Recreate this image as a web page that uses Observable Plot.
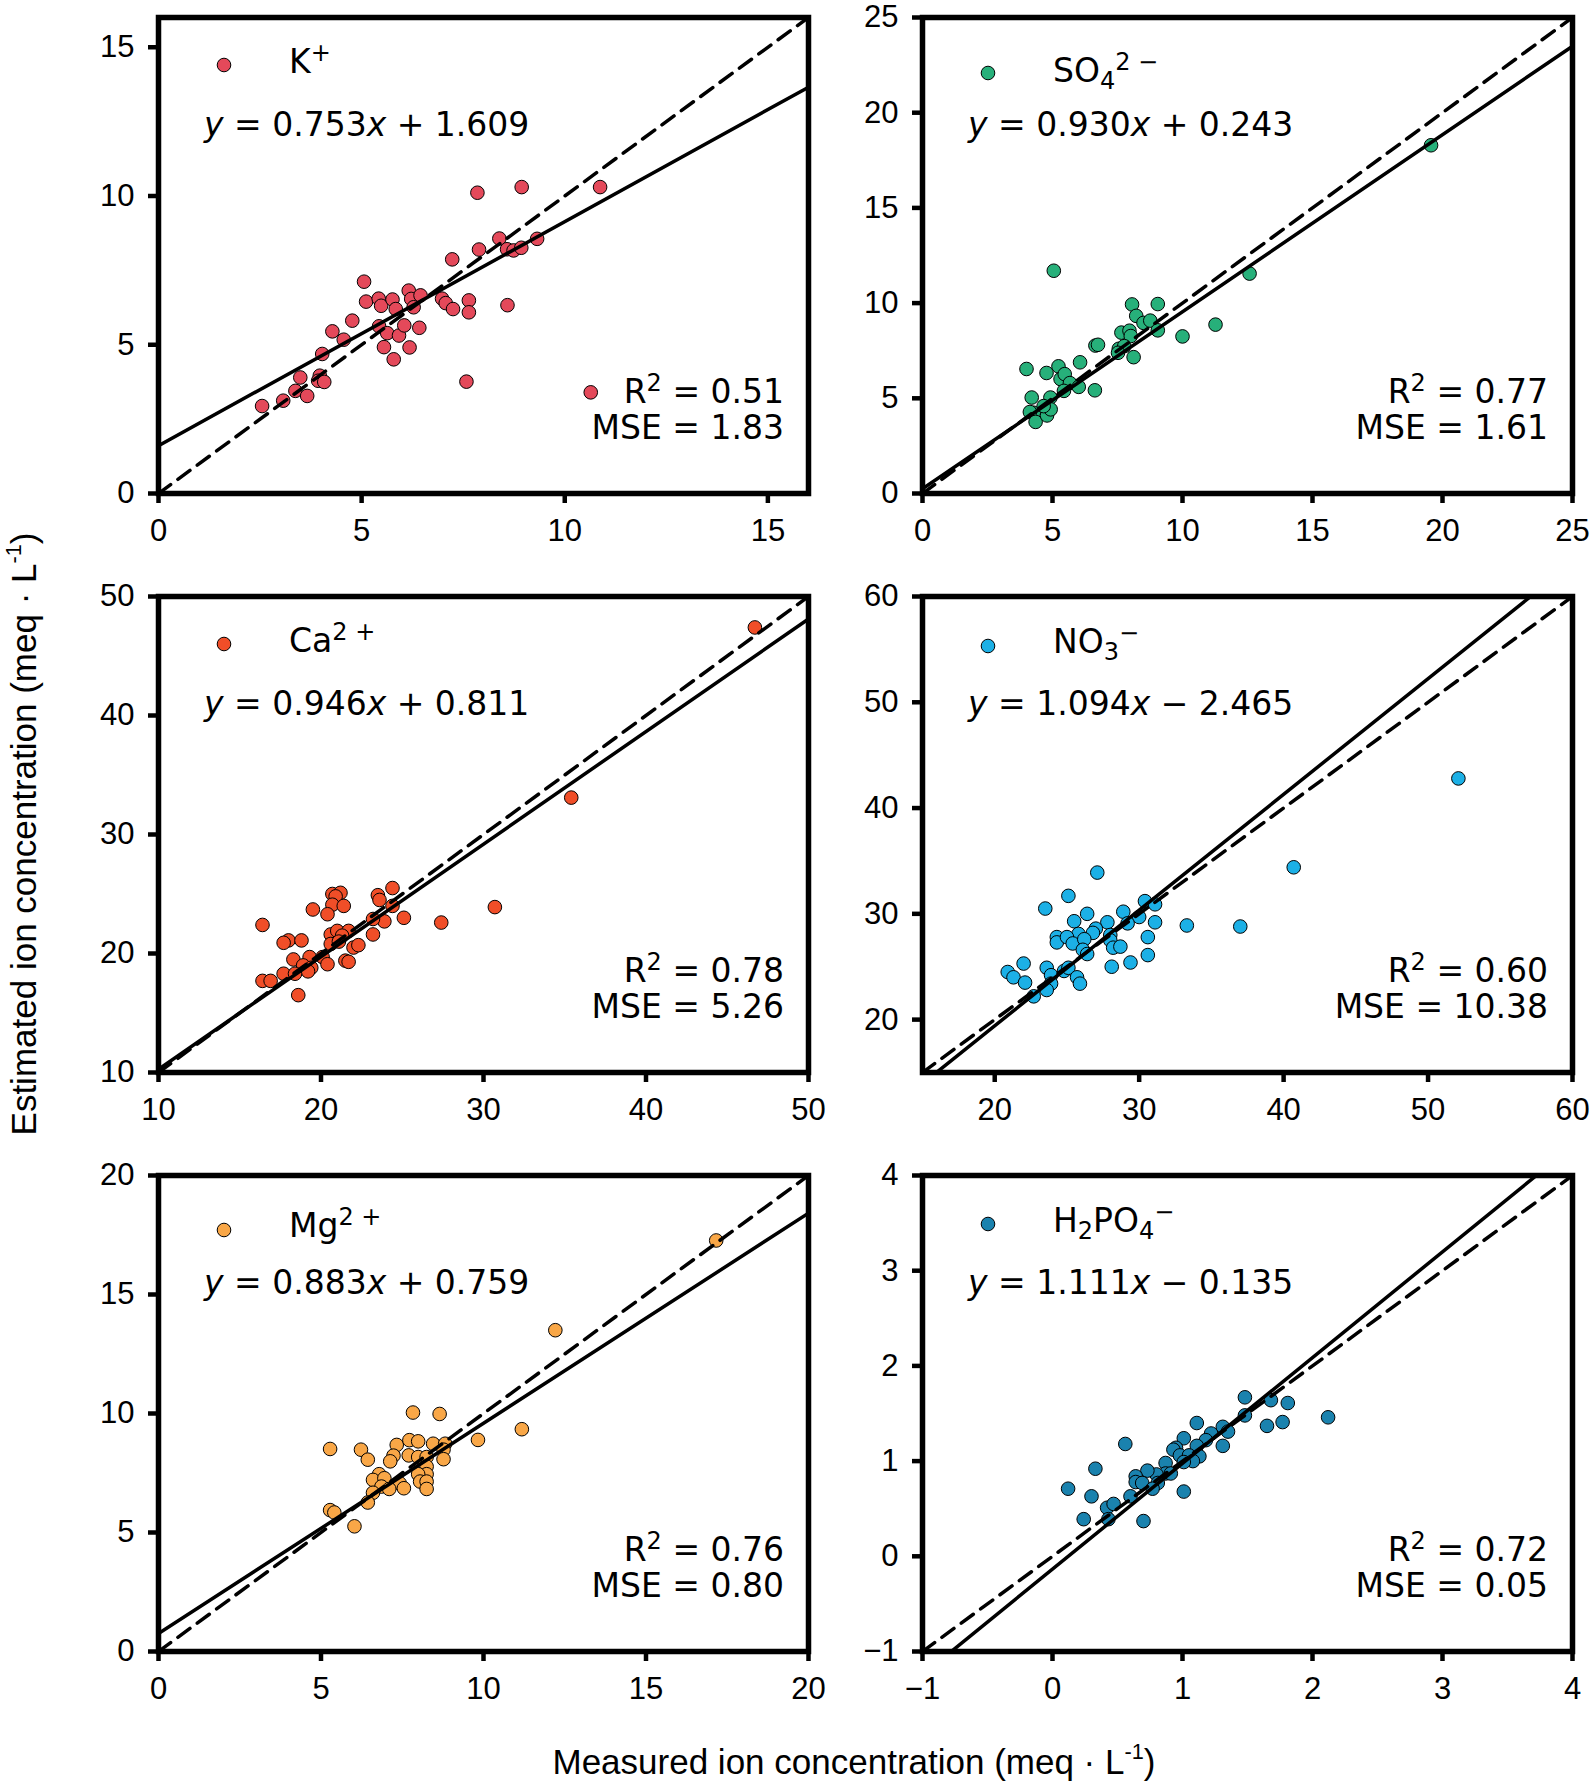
<!DOCTYPE html>
<html>
<head>
<meta charset="utf-8">
<script src="https://cdn.jsdelivr.net/npm/d3@7"></script>
<script src="https://cdn.jsdelivr.net/npm/@observablehq/plot@0.6"></script>
<style>
  html, body { margin: 0; padding: 0; background: #fff; overflow: hidden; }
  #fig { position: relative; width: 1595px; height: 1785px; background: #fff; }
  .panel { position: absolute; }
  .axtitle { position: absolute; font-family: "Liberation Sans", Arial, sans-serif; font-size: 35px; line-height: 40px; color: #000; white-space: nowrap; }
  .axtitle sup { font-size: 0.62em; vertical-align: 0.7em; line-height: 0; }
</style>
</head>
<body>
<div id="fig"></div>
<script>
// ---------------- DATA ----------------
const kMeasured   = [2.55,3.07,3.37,3.66,3.49,3.97,3.93,4.08,4.03,4.28,4.56,4.77,5.06,5.11,5.42,5.48,5.76,5.84,6.16,6.22,6.28,6.45,5.43,5.63,5.92,6.05,6.42,5.55,6.18,5.79,6.98,7.07,7.25,7.64,7.64,7.23,7.58,7.85,7.89,8.39,8.58,8.74,8.93,9.32,8.59,8.94,10.87,10.64];
const kEstimated  = [2.94,3.12,3.45,3.28,3.90,3.96,3.79,3.75,4.69,5.45,5.17,5.81,7.12,6.45,6.55,6.31,6.52,6.20,6.82,6.54,6.26,6.66,5.62,5.39,5.31,5.65,5.57,4.92,4.91,4.51,6.55,6.40,6.20,6.49,6.09,7.87,3.76,10.11,8.20,8.57,8.21,8.17,8.26,8.56,6.33,10.30,10.30,3.40];

const so4Measured  = [19.56,12.58,5.05,11.27,10.0,8.06,9.05,8.22,8.50,8.76,9.05,7.65,7.96,8.01,7.55,7.76,7.52,8.12,6.65,6.75,6.06,5.23,4.0,4.77,5.31,5.47,5.67,5.44,6.01,6.63,4.2,4.92,4.28,4.13,4.35,4.79,4.93,4.66];
const so4Estimated = [18.29,11.55,11.70,8.87,8.25,9.93,9.95,9.33,8.96,9.08,8.57,8.45,8.55,8.27,7.60,7.74,7.39,7.16,7.77,7.81,6.89,6.68,6.54,6.33,6.01,6.27,5.80,5.39,5.60,5.42,5.04,5.04,4.24,4.28,3.76,4.10,4.42,4.59];

const caMeasured  = [46.7,35.4,30.7,27.4,16.4,24.4,23.5,23.6,24.4,25.1,23.9,23.2,23.2,20.7,21.2,20.9,20.7,21.4,19.5,20.4,18.0,17.7,18.8,20.6,21.0,21.7,21.3,20.6,21.1,22.0,22.3,18.3,19.3,20.1,20.4,18.9,19.4,19.2,21.5,21.7,17.7,18.4,16.4,16.9,18.6];
const caEstimated = [47.4,33.1,23.9,22.6,22.4,25.5,24.9,24.5,24.0,23.0,22.7,22.9,21.6,25.0,25.1,24.8,24.1,24.0,23.7,23.3,21.1,20.9,21.1,21.6,21.9,21.9,21.5,20.8,21.0,20.5,20.7,19.5,19.7,19.7,19.1,19.0,18.8,18.5,19.4,19.3,18.3,18.3,17.7,17.7,16.5];

const no3Measured  = [52.1,40.7,37.0,33.3,27.1,25.1,23.5,30.4,31.1,28.9,30.0,29.2,31.1,27.8,26.4,25.5,27.0,26.8,25.8,24.3,24.3,25.0,25.4,26.2,28.0,28.0,28.2,28.7,26.1,26.4,30.6,30.6,29.4,28.1,22.0,20.9,21.3,22.1,23.6,23.9,23.9,23.6,22.7,24.8,25.1,25.7,25.9];
const no3Estimated = [42.8,34.4,28.8,28.9,33.9,31.7,30.5,31.2,30.9,30.2,29.7,29.1,29.2,29.2,30.0,29.3,28.6,28.2,28.1,27.8,27.3,27.8,27.2,27.6,28.0,27.5,26.8,26.9,26.6,26.2,27.8,26.1,25.4,25.0,25.3,24.5,24.0,23.5,24.9,24.2,23.4,22.8,22.2,24.6,24.9,24.0,23.4];

const mgMeasured  = [17.16,12.21,11.18,9.83,7.83,8.65,5.28,6.23,6.44,7.33,7.72,7.99,8.45,8.82,8.77,8.77,7.70,7.99,8.25,7.23,7.13,8.25,8.25,7.99,6.79,6.60,6.95,6.86,7.42,8.05,8.25,8.25,7.10,7.55,6.60,6.44,5.28,5.41,6.03];
const mgEstimated = [17.27,13.50,9.34,8.89,10.04,9.98,8.51,8.48,8.06,8.68,8.88,8.83,8.73,8.73,8.48,8.08,8.24,8.17,8.17,8.23,7.99,7.77,7.45,7.45,7.45,7.21,7.28,6.93,7.07,7.14,7.14,6.83,6.83,6.86,6.67,6.26,5.94,5.84,5.26];

const h2po4Measured  = [2.12,1.48,1.68,1.81,1.48,1.65,1.77,1.31,1.35,1.31,1.22,1.18,1.11,1.11,1.01,0.95,0.93,0.98,1.05,1.13,1.08,1.01,0.87,0.87,0.91,0.80,0.73,0.64,0.64,0.69,0.81,0.77,0.56,0.33,0.12,0.30,0.42,0.47,0.60,0.24,0.43,0.70,1.01];
const h2po4Estimated = [1.46,1.67,1.64,1.61,1.48,1.37,1.41,1.36,1.31,1.16,1.29,1.22,1.40,1.16,1.24,1.14,1.12,1.06,1.06,1.05,1.00,0.99,0.98,0.87,0.87,0.86,0.90,0.84,0.78,0.77,0.77,0.71,1.18,0.92,0.71,0.63,0.51,0.55,0.63,0.39,0.39,0.37,0.68];

const ionLabels   = ["K^{+}", "SO_{4}^{2 −}", "Ca^{2 +}", "NO_{3}^{−}", "Mg^{2 +}", "H_{2}PO_{4}^{−}"];
const ionColors   = ["#e4495a", "#27b07a", "#f04e28", "#1cb0e6", "#f9a747", "#1a82ae"];
const slopes      = [0.753, 0.930, 0.946, 1.094, 0.883, 1.111];
const intercepts  = [1.609, 0.243, 0.811, -2.465, 0.759, -0.135];
const r2Labels    = ["0.51", "0.77", "0.78", "0.60", "0.76", "0.72"];
const mseLabels   = ["1.83", "1.61", "5.26", "10.38", "0.80", "0.05"];
const axisDomains = [[0, 16], [0, 25], [10, 50], [15, 60], [0, 20], [-1, 4]];
const axisTicks   = [[0,5,10,15], [0,5,10,15,20,25], [10,20,30,40,50], [20,30,40,50,60], [0,5,10,15,20], [-1,0,1,2,3,4]];
const xTitle = "Measured ion concentration (meq · L<sup>-1</sup>)";
const yTitle = "Estimated ion concentration (meq · L<sup>-1</sup>)";

const measuredSets  = [kMeasured, so4Measured, caMeasured, no3Measured, mgMeasured, h2po4Measured];
const estimatedSets = [kEstimated, so4Estimated, caEstimated, no3Estimated, mgEstimated, h2po4Estimated];

// ---------------- LAYOUT ----------------
const frameW = 650, frameH = 476;
const mL = 90, mT = 12, mR = 12, mB = 60;
const colLeft = [158, 922];
const rowTop = [17, 596, 1175];
const legendY = [[48, 56], [56, 65], [48, 56], [50, 57], [55, 62], [49, 57]]; // marker centre, text baseline (relative to frame top)
const dotR = 6.8;

const fmt = d => d < 0 ? "\u2212" + Math.abs(d) : String(d);

// rich text helper (sup/sub/italic)
function parseRich(str) {
  const parts = [];
  let i = 0, buf = "";
  while (i < str.length) {
    const c = str[i];
    if ((c === "^" || c === "_") && str[i + 1] === "{") {
      if (buf) { parts.push({t: buf}); buf = ""; }
      const end = str.indexOf("}", i);
      parts.push({t: str.slice(i + 2, end), [c === "^" ? "sup" : "sub"]: true});
      i = end + 1;
    } else { buf += c; i++; }
  }
  if (buf) parts.push({t: buf});
  return parts;
}
function richText(g, x, y, parts, anchor, size) {
  const t = g.append("text")
    .attr("x", x).attr("y", y)
    .attr("text-anchor", anchor)
    .style("font-family", "'DejaVu Sans', sans-serif")
    .style("font-size", size + "px")
    .attr("fill", "#000");
  let shift = 0;
  for (const p of parts) {
    const ts = t.append("tspan").text(p.t);
    let target = 0;
    if (p.sup) { target = -Math.round(size * 0.36); ts.style("font-size", Math.round(size * 0.72) + "px"); }
    if (p.sub) { target = Math.round(size * 0.2); ts.style("font-size", Math.round(size * 0.72) + "px"); }
    if (p.italic) ts.style("font-style", "italic");
    ts.attr("dy", target - shift);
    shift = target;
  }
  return t;
}

const fig = document.getElementById("fig");

for (let p = 0; p < 6; p++) {
  const dom = axisDomains[p];
  const pts = measuredSets[p].map((m, i) => ({m, e: estimatedSets[p][i]}));
  const fit = dom.map(x => ({x, y: slopes[p] * x + intercepts[p]}));
  const ident = dom.map(x => ({x, y: x}));

  const plot = Plot.plot({
    width: frameW + mL + mR,
    height: frameH + mT + mB,
    marginLeft: mL, marginRight: mR, marginTop: mT, marginBottom: mB,
    style: {fontFamily: "'Liberation Sans', Arial, sans-serif", fontSize: "31px", overflow: "visible", background: "transparent", color: "#000"},
    x: {domain: dom, label: null},
    y: {domain: dom, label: null},
    marks: [
      Plot.dot(pts, {x: "m", y: "e", r: dotR, fill: ionColors[p], stroke: "#000", strokeWidth: 1, fillOpacity: 1}),
      Plot.line(ident, {x: "x", y: "y", stroke: "#000", strokeWidth: 3.5, strokeDasharray: "15,9", clip: true}),
      Plot.line(fit, {x: "x", y: "y", stroke: "#000", strokeWidth: 3.5, clip: true}),
      Plot.axisX(axisTicks[p], {tickSize: 10, tickPadding: 15, strokeWidth: 4.5, fontSize: 31, tickFormat: fmt, label: null}),
      Plot.axisY(axisTicks[p], {tickSize: 10, tickPadding: 14, strokeWidth: 4.5, fontSize: 31, tickFormat: fmt, label: null}),
      Plot.frame({stroke: "#000", strokeWidth: 5.5})
    ]
  });

  const col = p % 2, row = Math.floor(p / 2);
  const wrap = document.createElement("div");
  wrap.className = "panel";
  wrap.style.left = (colLeft[col] - mL) + "px";
  wrap.style.top = (rowTop[row] - mT) + "px";
  wrap.appendChild(plot);
  fig.appendChild(wrap);

  const svg = d3.select(plot);
  const g = svg.append("g").attr("class", "annot");
  const fx0 = mL, fy0 = mT, fx1 = mL + frameW, fy1 = mT + frameH;
  // legend entry
  g.append("circle").attr("cx", fx0 + 66).attr("cy", fy0 + legendY[p][0]).attr("r", dotR)
    .attr("fill", ionColors[p]).attr("stroke", "#000").attr("stroke-width", 1);
  richText(g, fx0 + 131, fy0 + legendY[p][1], parseRich(ionLabels[p]), "start", 33);
  // equation
  const b = intercepts[p];
  richText(g, fx0 + 46, fy0 + 119, [
    {t: "y", italic: true}, {t: " = " + slopes[p].toFixed(3)}, {t: "x", italic: true},
    {t: (b < 0 ? " \u2212 " : " + ") + Math.abs(b).toFixed(3)}
  ], "start", 33);
  // stats
  richText(g, fx1 - 24, fy1 - 90, [{t: "R"}, {t: "2", sup: true}, {t: " = " + r2Labels[p]}], "end", 33);
  richText(g, fx1 - 24, fy1 - 54, [{t: "MSE = " + mseLabels[p]}], "end", 33);
  // keep frame on top
  svg.select("g[aria-label=frame]").raise();
}

// axis titles
const xt = document.createElement("div");
xt.className = "axtitle";
xt.innerHTML = xTitle;
fig.appendChild(xt);
xt.style.left = (854 - xt.offsetWidth / 2) + "px";
xt.style.top = (1762 - xt.offsetHeight / 2) + "px";

const yt = document.createElement("div");
yt.className = "axtitle";
yt.innerHTML = yTitle;
fig.appendChild(yt);
yt.style.left = (24 - yt.offsetWidth / 2) + "px";
yt.style.top = (834 - yt.offsetHeight / 2) + "px";
yt.style.transform = "rotate(-90deg)";
</script>
</body>
</html>
